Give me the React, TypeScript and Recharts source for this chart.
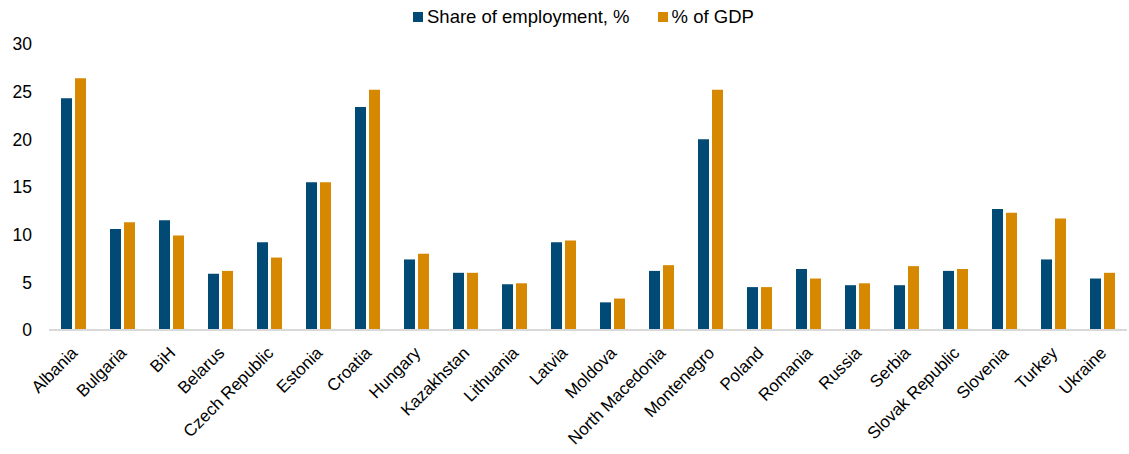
import { BarChart, Bar, XAxis, YAxis, Legend } from "recharts"

const COUNTRIES = [
  "Albania", "Bulgaria", "BiH", "Belarus", "Czech Republic", "Estonia", "Croatia",
  "Hungary", "Kazakhstan", "Lithuania", "Latvia", "Moldova", "North Macedonia",
  "Montenegro", "Poland", "Romania", "Russia", "Serbia", "Slovak Republic",
  "Slovenia", "Turkey", "Ukraine",
]

const EMPLOYMENT = [
  24.3, 10.6, 11.5, 5.9, 9.2, 15.5, 23.4, 7.4, 6.0, 4.8, 9.2, 2.9, 6.2, 20.0,
  4.5, 6.4, 4.7, 4.7, 6.2, 12.7, 7.4, 5.4,
]

const GDP = [
  26.4, 11.3, 9.9, 6.2, 7.6, 15.5, 25.2, 8.0, 6.0, 4.9, 9.4, 3.3, 6.8, 25.2,
  4.5, 5.4, 4.9, 6.7, 6.4, 12.3, 11.7, 6.0,
]

const Y_TICKS = [0, 5, 10, 15, 20, 25, 30]

const BLUE = "#004a75"
const ORANGE = "#d58800"
const FONT = "'Liberation Sans', Arial, sans-serif"

const chartData = COUNTRIES.map((name, i) => ({
  name,
  employment: EMPLOYMENT[i],
  gdp: GDP[i],
}))

// rotated category labels, anchored at their end
function AngledTick({ x, y, payload }: any) {
  return (
    <g transform={`translate(${x + 5},${y + 16})`}>
      <text
        transform="rotate(-45)"
        textAnchor="end"
        fontSize={17}
        fontFamily={FONT}
        fill="#000"
      >
        {payload.value}
      </text>
    </g>
  )
}

function LegendContent() {
  const items = [
    { label: "Share of employment, %", color: BLUE },
    { label: "% of GDP", color: ORANGE },
  ]
  return (
    <div style={{ display: "flex", fontFamily: FONT, fontSize: 18.5, color: "#000", lineHeight: "20px" }}>
      {items.map((it, i) => (
        <div
          key={it.label}
          style={{ display: "flex", alignItems: "center", marginRight: i === 0 ? 28 : 0 }}
        >
          <span
            style={{ width: 10, height: 10, background: it.color, display: "inline-block", marginRight: 4 }}
          />
          <span>{it.label}</span>
        </div>
      ))}
    </div>
  )
}

export default function App() {
  return (
    <div style={{ position: "absolute", left: 0, top: 0, background: "#fff" }}>
      <BarChart
        width={1129}
        height={454}
        data={chartData}
        margin={{ top: 44, right: 2, left: 0, bottom: 0 }}
        barSize={11}
        barGap={3}
      >
        <Legend
          verticalAlign="middle"
          content={<LegendContent />}
          wrapperStyle={{ top: 7, left: 413, width: "auto" }}
        />
        <XAxis
          dataKey="name"
          interval={0}
          height={124}
          tickLine={false}
          axisLine={{ stroke: "#d9d9d9", strokeWidth: 2 }}
          tick={<AngledTick />}
        />
        <YAxis
          domain={[0, 30]}
          ticks={Y_TICKS}
          width={49}
          axisLine={false}
          tickLine={false}
          tickSize={0}
          tickMargin={17}
          tick={{ fontSize: 17.5, fontFamily: FONT, fill: "#000" }}
        />
        <Bar dataKey="employment" name="Share of employment, %" fill={BLUE} isAnimationActive={false} />
        <Bar dataKey="gdp" name="% of GDP" fill={ORANGE} isAnimationActive={false} />
      </BarChart>
    </div>
  )
}
